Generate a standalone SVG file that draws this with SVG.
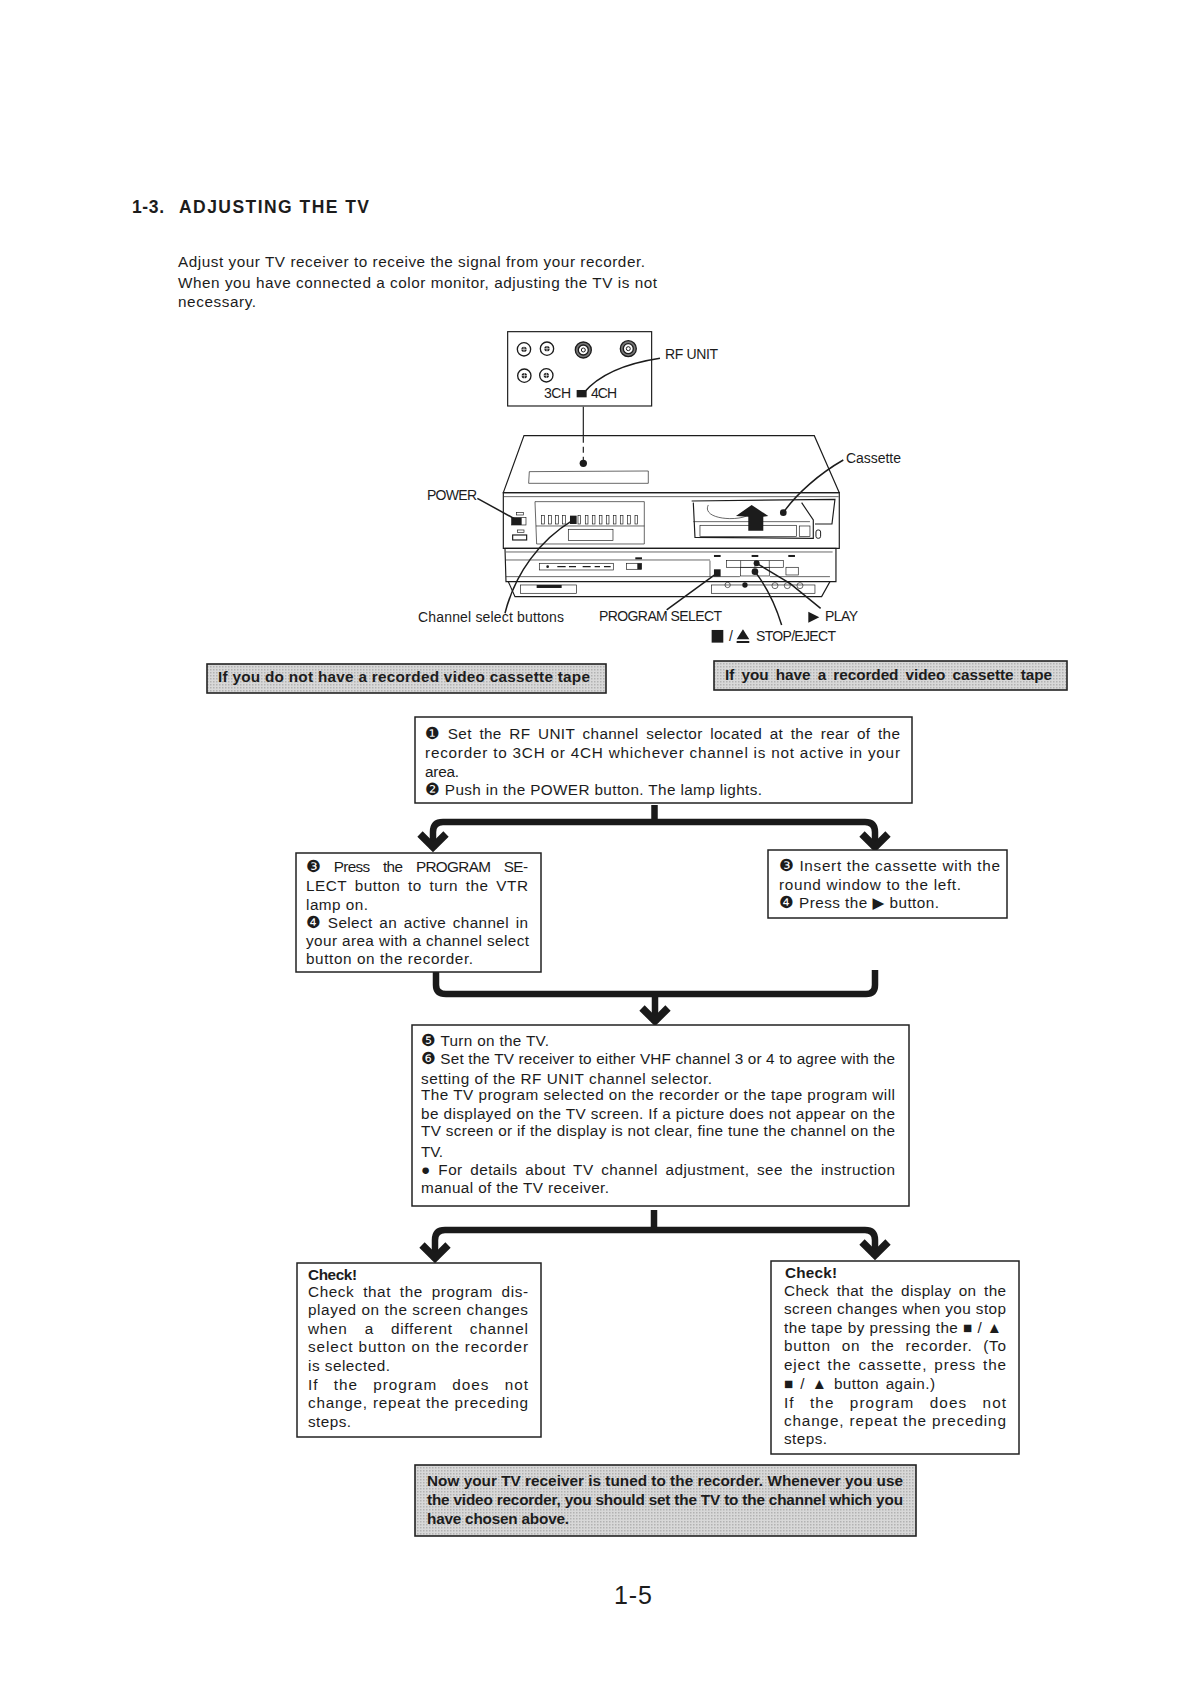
<svg xmlns="http://www.w3.org/2000/svg" width="1191" height="1683" viewBox="0 0 1191 1683">
<style>
text{font-family:"Liberation Sans","DejaVu Sans",sans-serif;fill:#1c1c1c}
.t{font-size:15.3px}
.b{font-size:15.3px;font-weight:700}
.l{font-size:14px}
.n{font-family:"DejaVu Sans",sans-serif;font-size:16.5px}
.box{fill:#fff;stroke:#222;stroke-width:1.5}
.ban{fill:url(#dots);stroke:#222;stroke-width:1.6}
.con{fill:none;stroke:#1a1a1a;stroke-width:6.5;stroke-linejoin:round}
.v{fill:none;stroke:#1c1c1c;stroke-width:3.5}
.v2{fill:none;stroke:#1c1c1c;stroke-width:2}
.k{fill:#1c1c1c;stroke:none}
.w{fill:#fff;stroke:#1c1c1c;stroke-width:3}
.lead{fill:none;stroke:#1c1c1c;stroke-width:4.5}
</style>
<defs>
<pattern id="dots" width="3" height="3" patternUnits="userSpaceOnUse"><rect width="3" height="3" fill="#d8d8d8"/><rect width="1.5" height="1.5" fill="#b2b2b2"/></pattern>
<marker id="head" markerUnits="userSpaceOnUse" markerWidth="30" markerHeight="34" refX="25" refY="17" orient="auto-start-reverse" viewBox="0 0 30 34"><path d="M10 4 L23 17 L10 30" fill="none" stroke="#1a1a1a" stroke-width="7.5" stroke-linejoin="miter"/></marker>
<g id="jack"><circle r="20" fill="#fff" stroke="#1c1c1c" stroke-width="4"/><circle r="8" fill="#1c1c1c"/><path d="M-12 0H12M0 -12V12" stroke="#fff" stroke-width="2"/></g>
<g id="rca"><circle r="24" fill="#777" stroke="#1c1c1c" stroke-width="4"/><circle r="15" fill="#fff" stroke="#1c1c1c" stroke-width="4"/><circle r="6" fill="#fff" stroke="#1c1c1c" stroke-width="3"/></g>
</defs>
<rect width="1191" height="1683" fill="#fff"/>

<g id="heading">
<text x="132" y="213" font-size="17.5" font-weight="700" textLength="32">1-3.</text>
<text x="179" y="213" font-size="17.5" font-weight="700" textLength="190">ADJUSTING THE TV</text>
</g>
<g id="intro">
<text class="t" x="178" y="267" textLength="467">Adjust your TV receiver to receive the signal from your recorder.</text>
<text class="t" x="178" y="288" textLength="479">When you have connected a color monitor, adjusting the TV is not</text>
<text class="t" x="178" y="307" textLength="78">necessary.</text>
</g>

<g id="vcr-illustration">
<g transform="translate(400 320) scale(.3333)">
<rect class="v" x="323" y="35" width="432" height="223"/>
<use href="#jack" x="372" y="88"/><use href="#jack" x="441" y="86"/><use href="#rca" x="550" y="90"/><use href="#rca" x="685" y="86"/>
<use href="#jack" x="373" y="167"/><use href="#jack" x="439" y="166"/>
<rect class="k" x="530" y="210" width="30" height="22"/>
<path class="v" d="M550 260V350"/><path class="v" d="M550 350V420" stroke-dasharray="18 12"/><circle class="k" cx="550" cy="430" r="11"/>
<path class="v" d="M372 347H1243L1318 518H310Z" fill="#fff"/>
<path class="v2" d="M388 455L745 453V490H386Z"/>
<path class="v" d="M310 518H1318V685H310Z"/>
<path class="v2" d="M312 530H1316"/>
<path class="v2" d="M405 545H733V672H410Z M408 618H733"/>
<rect class="v2" x="505" y="628" width="134" height="34"/>
<g class="v2"><rect x="425" y="587" width="8" height="25"/><rect x="446" y="587" width="8" height="25"/><rect x="467" y="587" width="8" height="25"/><rect x="488" y="587" width="8" height="25"/><rect class="k" x="510" y="587" width="20" height="25"/><rect x="534" y="587" width="8" height="25"/><rect x="556" y="587" width="8" height="25"/><rect x="577" y="587" width="8" height="25"/><rect x="598" y="587" width="8" height="25"/><rect x="619" y="587" width="8" height="25"/><rect x="640" y="587" width="8" height="25"/><rect x="661" y="587" width="8" height="25"/><rect x="683" y="587" width="8" height="25"/><rect x="705" y="587" width="8" height="25"/></g>
<rect class="v2" x="350" y="578" width="20" height="7"/><rect class="k" x="335" y="593" width="30" height="22"/><rect class="v2" x="335" y="593" width="43" height="22"/>
<rect class="v2" x="352" y="630" width="20" height="7"/><rect class="v" x="338" y="645" width="42" height="15"/>
<path class="v" d="M875 543L1305 538L1296 612H1245"/>
<path class="v" d="M880 548L885 652L1240 655V600L1205 548" fill="#fff"/>
<path class="v2" d="M925 555C905 595 1000 605 1040 588"/>
<path class="v2" d="M880 605H1230"/>
<rect class="v2" x="900" y="616" width="290" height="34"/><rect class="v2" x="1198" y="618" width="32" height="32"/>
<circle class="k" cx="1150" cy="578" r="10"/>
<path class="k" d="M1045 632H1090V590L1105 588L1055 555L1008 588L1045 590Z"/>
<rect class="w" x="1248" y="630" width="14" height="25" rx="6"/>
<path class="v" d="M315 685H1308V785H318Z"/><path class="v2" d="M318 696H1298M318 720H930M318 770H930"/>
<rect class="v2" x="418" y="730" width="222" height="20"/>
<circle class="k" cx="443" cy="740" r="4"/><path class="v" d="M472 740H497M507 740H528M548 740H572M584 740H600M612 740H632"/>
<rect class="v2" x="680" y="730" width="45" height="18"/><rect class="k" x="712" y="730" width="13" height="18"/>
<rect class="k" x="706" y="712" width="20" height="6"/><rect class="k" x="942" y="705" width="20" height="6"/><rect class="k" x="1055" y="705" width="20" height="6"/><rect class="k" x="1165" y="705" width="20" height="6"/>
<path class="v2" d="M930 722V770H1020M1110 770H1290"/>
<rect class="v2" x="980" y="722" width="170" height="20"/><path class="v2" d="M1022 722V742M1065 722V742M1108 722V742"/>
<rect class="v2" x="1022" y="742" width="86" height="26"/>
<rect class="v2" x="1158" y="742" width="37" height="23"/>
<rect class="k" x="942" y="748" width="20" height="22"/>
<path class="v" d="M325 785L345 830H1265L1290 785"/>
<rect class="v2" x="362" y="795" width="168" height="25"/><rect class="k" x="410" y="795" width="75" height="9"/>
<rect class="v2" x="935" y="795" width="310" height="25"/>
<circle class="v2" cx="983" cy="795" r="8"/><circle class="k" cx="1035" cy="795" r="8"/><circle class="v2" cx="1125" cy="797" r="9"/><circle class="v2" cx="1162" cy="797" r="9"/><circle class="v2" cx="1200" cy="797" r="9"/>
<path class="lead" d="M780 115C680 130 600 160 550 220"/>
<path class="lead" d="M232 535L350 600"/>
<path class="lead" d="M315 880C345 760 420 660 520 600"/>
<path class="lead" d="M800 870L950 760"/>
<path class="lead" d="M1262 865L1170 790L1070 730"/><circle class="k" cx="1070" cy="730" r="9"/>
<path class="lead" d="M1145 915C1125 850 1100 800 1065 755"/><circle class="k" cx="1065" cy="755" r="10"/>
<path class="lead" d="M1330 420C1260 460 1190 520 1150 578"/>
<path class="k" d="M1225 875L1258 892L1225 908Z"/>
<rect class="k" x="935" y="930" width="35" height="38"/>
<path class="k" d="M1029 928L1048 958H1010Z M1010 963H1048V969H1010Z"/>
</g>
<text class="l" x="665" y="359" textLength="53">RF UNIT</text>
<text class="l" x="544" y="398" textLength="27">3CH</text>
<text class="l" x="591" y="398" textLength="26">4CH</text>
<text class="l" x="846" y="463" textLength="55">Cassette</text>
<text class="l" x="427" y="500" textLength="50">POWER</text>
<text class="l" x="418" y="622" textLength="146">Channel select buttons</text>
<text class="l" x="599" y="621" textLength="123">PROGRAM SELECT</text>
<text class="l" x="825" y="621" textLength="33">PLAY</text>
<text class="l" x="729" y="641">/</text>
<text class="l" x="756" y="641" textLength="80">STOP/EJECT</text>
</g>

<g id="banner-no-tape">
<rect class="ban" x="207" y="664" width="399" height="29"/>
<text class="b" x="218" y="682" textLength="372">If you do not have a recorded video cassette tape</text>
</g>
<g id="banner-tape">
<rect class="ban" x="714" y="661" width="353" height="29"/>
<text class="b" x="725" y="680" word-spacing="3" textLength="327">If you have a recorded video cassette tape</text>
</g>

<g id="connectors">
<path class="con" d="M654.5 805V822" stroke-width="8"/>
<path class="con" d="M875 849V832Q875 822 865 822H443Q433 822 433 832V849" marker-start="url(#head)" marker-end="url(#head)"/>
<path class="con" d="M436 972V985Q436 994 446 994H866Q875 994 875 985V970"/>
<path class="con" d="M655 994V1023" marker-end="url(#head)"/>
<path class="con" d="M654 1210V1230" stroke-width="8"/>
<path class="con" d="M875 1257V1240Q875 1230 865 1230H445Q435 1230 435 1240V1260" marker-start="url(#head)" marker-end="url(#head)"/>
</g>

<g id="step-1-2">
<rect class="box" x="415" y="717" width="497" height="86"/>
<text class="t" x="425" y="739" word-spacing="3" textLength="475"><tspan class="n">❶</tspan> Set the RF UNIT channel selector located at the rear of the</text>
<text class="t" x="425" y="758" textLength="475">recorder to 3CH or 4CH whichever channel is not active in your</text>
<text class="t" x="425" y="777" textLength="34">area.</text>
<text class="t" x="425" y="795" textLength="337"><tspan class="n">❷</tspan> Push in the POWER button. The lamp lights.</text>
</g>
<g id="step-3-4-no-tape">
<rect class="box" x="296" y="853" width="245" height="119"/>
<text class="t" x="306" y="872" word-spacing="10" textLength="222"><tspan class="n">❸</tspan> Press the PROGRAM SE-</text>
<text class="t" x="306" y="891" word-spacing="3" textLength="222">LECT button to turn the VTR</text>
<text class="t" x="306" y="910" textLength="62">lamp on.</text>
<text class="t" x="306" y="928" word-spacing="2" textLength="222"><tspan class="n">❹</tspan> Select an active channel in</text>
<text class="t" x="306" y="946" textLength="223">your area with a channel select</text>
<text class="t" x="306" y="964" textLength="167">button on the recorder.</text>
</g>
<g id="step-3-4-tape">
<rect class="box" x="768" y="850" width="239" height="68"/>
<text class="t" x="779" y="871" textLength="221"><tspan class="n">❸</tspan> Insert the cassette with the</text>
<text class="t" x="779" y="890" textLength="182">round window to the left.</text>
<text class="t" x="779" y="908" textLength="160"><tspan class="n">❹</tspan> Press the ▶ button.</text>
</g>
<g id="step-5-6">
<rect class="box" x="412" y="1025" width="497" height="181"/>
<text class="t" x="421" y="1046" textLength="128"><tspan class="n">❺</tspan> Turn on the TV.</text>
<text class="t" x="421" y="1064" textLength="474"><tspan class="n">❻</tspan> Set the TV receiver to either VHF channel 3 or 4 to agree with the</text>
<text class="t" x="421" y="1084" textLength="291">setting of the RF UNIT channel selector.</text>
<text class="t" x="421" y="1100" textLength="474">The TV program selected on the recorder or the tape program will</text>
<text class="t" x="421" y="1119" textLength="474">be displayed on the TV screen. If a picture does not appear on the</text>
<text class="t" x="421" y="1136" textLength="474">TV screen or if the display is not clear, fine tune the channel on the</text>
<text class="t" x="421" y="1157" textLength="22">TV.</text>
<text class="t" x="421" y="1175" word-spacing="3" textLength="474">● For details about TV channel adjustment, see the instruction</text>
<text class="t" x="421" y="1193" textLength="188">manual of the TV receiver.</text>
</g>
<g id="check-left">
<rect class="box" x="297" y="1263" width="244" height="174"/>
<text class="b" x="308" y="1280" textLength="49">Check!</text>
<text class="t" x="308" y="1297" word-spacing="4" textLength="220">Check that the program dis-</text>
<text class="t" x="308" y="1315" textLength="220">played on the screen changes</text>
<text class="t" x="308" y="1334" word-spacing="12" textLength="220">when a different channel</text>
<text class="t" x="308" y="1352" textLength="220">select button on the recorder</text>
<text class="t" x="308" y="1371" textLength="82">is selected.</text>
<text class="t" x="308" y="1390" word-spacing="10" textLength="220">If the program does not</text>
<text class="t" x="308" y="1408" textLength="220">change, repeat the preceding</text>
<text class="t" x="308" y="1427" textLength="43">steps.</text>
</g>
<g id="check-right">
<rect class="box" x="771" y="1261" width="248" height="193"/>
<text class="b" x="785" y="1278" textLength="52">Check!</text>
<text class="t" x="784" y="1296" word-spacing="3" textLength="222">Check that the display on the</text>
<text class="t" x="784" y="1314" textLength="222">screen changes when you stop</text>
<text class="t" x="784" y="1333" textLength="218">the tape by pressing the ■ / ▲</text>
<text class="t" x="784" y="1351" word-spacing="6" textLength="222">button on the recorder. (To</text>
<text class="t" x="784" y="1370" word-spacing="2" textLength="222">eject the cassette, press the</text>
<text class="t" x="784" y="1389" word-spacing="2" textLength="151">■ / ▲ button again.)</text>
<text class="t" x="784" y="1408" word-spacing="10" textLength="222">If the program does not</text>
<text class="t" x="784" y="1426" textLength="222">change, repeat the preceding</text>
<text class="t" x="784" y="1444" textLength="43">steps.</text>
</g>
<g id="banner-final">
<rect class="ban" x="415" y="1465" width="501" height="71"/>
<text class="b" x="427" y="1486" textLength="476">Now your TV receiver is tuned to the recorder. Whenever you use</text>
<text class="b" x="427" y="1505" textLength="476">the video recorder, you should set the TV to the channel which you</text>
<text class="b" x="427" y="1524" textLength="142">have chosen above.</text>
</g>
<g id="page-number"><text x="614" y="1604" font-size="25" font-weight="500" textLength="38">1-5</text></g>
</svg>
